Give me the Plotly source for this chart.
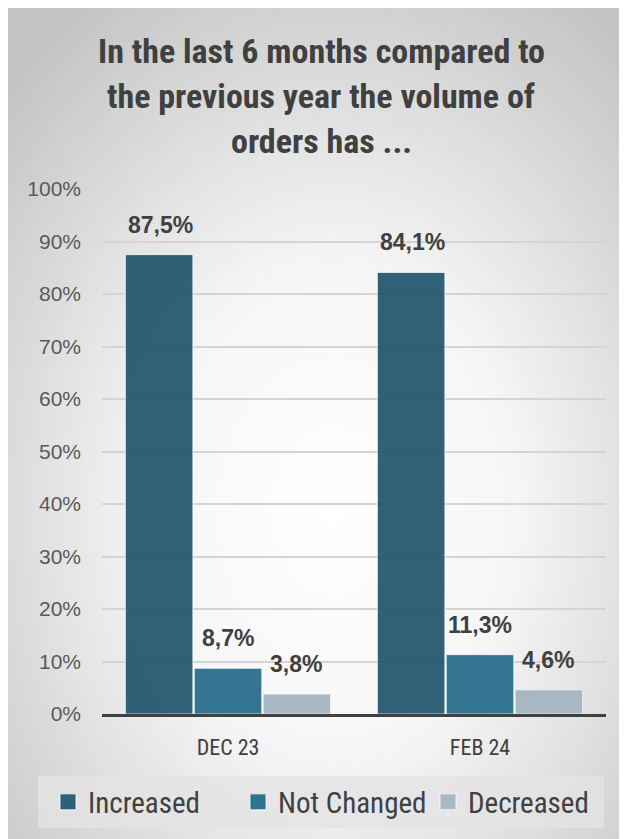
import base64
import plotly.graph_objects as go

categories = ["DEC 23", "FEB 24"]
series_names = ["Increased", "Not Changed", "Decreased"]
increased = [87.5, 84.1]
not_changed = [8.7, 11.3]
decreased = [3.8, 4.6]
series_values = [increased, not_changed, decreased]
colors = ["rgba(38,88,112,0.95)", "rgba(41,110,140,0.95)", "rgba(165,180,192,0.95)"]
legend_colors = ["#2c6179", "#2e7391", "#a9b8c3"]
tick_vals = [0, 10, 20, 30, 40, 50, 60, 70, 80, 90, 100]
tick_text = [f"{v}%" for v in tick_vals]
title_lines = ["In the last 6 months compared to", "the previous year the volume of", "orders has ..."]

W, H = 627, 839
ML, MR, MT, MB = 94, 29, 181, 133
PW, PH = W - ML - MR, H - MT - MB

NARROW = "Roboto Condensed, Liberation Sans Narrow, Roboto, sans-serif"
ARIAL = "Liberation Sans, Arial, sans-serif"


def px2x(px):
    return (px - ML) / PW


def py2y(py):
    return (H - MB - py) / PH


fig = go.Figure()
for name, vals, col in zip(series_names, series_values, colors):
    fig.add_trace(go.Bar(
        name=name, x=categories, y=vals, showlegend=False,
        marker=dict(color=col, line=dict(color="rgba(255,255,255,0.7)", width=1)),
        hoverinfo="skip",
    ))
# legend-only entries (larger square symbols)
for name, col in zip(series_names, legend_colors):
    fig.add_trace(go.Scatter(
        name=name, x=[None], y=[None], mode="markers",
        marker=dict(symbol="square", size=16, color=col,
                    line=dict(color="rgba(255,255,255,0.8)", width=1)),
        hoverinfo="skip",
    ))

# data labels
bar_px = 68
for i, vals in enumerate(series_values):
    for c, v in zip(categories, vals):
        fig.add_annotation(
            x=c, y=v, xref="x", yref="y",
            text=f"{v:.1f}%".replace(".", ","),
            showarrow=False, yanchor="bottom", yshift=15,
            xshift=(i - 1) * bar_px,
            font=dict(family=ARIAL, size=23, color="#404040", weight="bold"),
        )

# title lines
for k, line in enumerate(title_lines):
    fig.add_annotation(
        x=px2x(313), y=py2y(43 + 45 * k), xref="paper", yref="paper",
        text=line, showarrow=False, xanchor="center", yanchor="middle",
        font=dict(family=NARROW, size=34, color="#404040", weight="bold"),
    )

# gradient background
svg = (
    '<svg xmlns="http://www.w3.org/2000/svg" width="627" height="839" preserveAspectRatio="none">'
    '<defs><radialGradient id="g" cx="52%" cy="60%" r="72%">'
    '<stop offset="0%" stop-color="#ffffff"/><stop offset="40%" stop-color="#f6f6f6"/>'
    '<stop offset="100%" stop-color="#c4c4c4"/></radialGradient></defs>'
    '<rect width="627" height="839" fill="url(#g)"/></svg>'
)
src = "data:image/svg+xml;base64," + base64.b64encode(svg.encode()).decode()

fig.add_layout_image(
    source=src, xref="paper", yref="paper",
    x=px2x(0), y=py2y(0), sizex=px2x(W) - px2x(0), sizey=py2y(0) - py2y(H),
    xanchor="left", yanchor="top", sizing="stretch", layer="below",
)

# legend box
fig.add_shape(
    type="rect", xref="paper", yref="paper",
    x0=px2x(30), x1=px2x(596), y0=py2y(820), y1=py2y(768),
    fillcolor="rgba(228,228,228,0.8)", line=dict(width=0), layer="below",
)

fig.update_layout(
    width=W, height=H,
    margin=dict(l=ML, r=MR, t=MT, b=MB, autoexpand=False),
    paper_bgcolor="#d8d8d8", plot_bgcolor="rgba(0,0,0,0)",
    barmode="group", bargap=0.18, bargroupgap=0.02,
    showlegend=True,
    legend=dict(
        orientation="h", xref="paper", yref="paper",
        x=px2x(40), xanchor="left", y=py2y(794), yanchor="middle",
        bgcolor="rgba(0,0,0,0)", font=dict(family=NARROW, size=29, color="#404040"),
        itemwidth=30, traceorder="normal", tracegroupgap=0,
        entrywidth=145, entrywidthmode="pixels",
    ),
    xaxis=dict(
        tickfont=dict(family=NARROW, size=22, color="#404040"),
        showline=True, linecolor="#404040", linewidth=3, ticks="", showgrid=False,
        ticklabelstandoff=12,
    ),
    yaxis=dict(
        range=[0, 100], tickvals=tick_vals, ticktext=tick_text,
        tickfont=dict(family=ARIAL, size=21, color="#595959"),
        showgrid=True, gridcolor="#d4d4d4", gridwidth=1.5, zeroline=False,
        showline=False, ticks="", ticklabelstandoff=20,
    ),
)
fig.write_html("out.html")
